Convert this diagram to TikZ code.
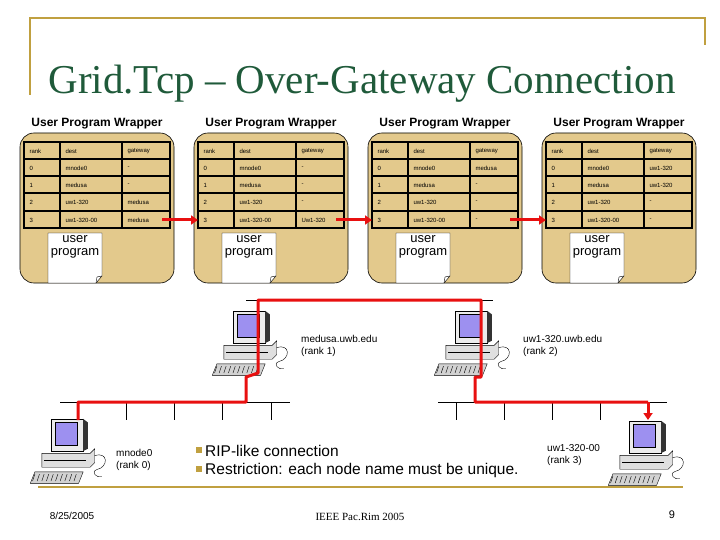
\documentclass[tikz,border=0pt]{standalone}
\usepackage{fontspec}
\setmainfont{Liberation Sans}
\newfontfamily\titlefont{Liberation Serif}
\usetikzlibrary{arrows.meta,positioning}
\definecolor{gold}{HTML}{C0A040}
\definecolor{tan}{HTML}{E3C98C}
\definecolor{titlegreen}{HTML}{1F5A3A}
\definecolor{screen}{HTML}{9D90F0}
\definecolor{netred}{HTML}{E81010}
\tikzset{
  wrapper/.style={draw, fill=tan, rounded corners=14pt, line width=0.6pt},
  cell/.style={font=\fontsize{6}{7}\selectfont, anchor=west},
  redline/.style={draw=netred, line width=3pt},
  redarrow/.style={draw=netred, line width=3pt, -{Triangle[length=7pt,width=9pt]}},
  lan/.style={draw, line width=0.6pt},
  hostlabel/.style={font=\fontsize{10}{12}\selectfont, align=left, anchor=north west, inner sep=0pt},
  pc/.pic={
    \draw[fill=gray!15] (-20,-34) rectangle (8,-6);
    \fill[black!80] (8,-34) -- (12,-31) -- (12,-8) -- (8,-6) -- cycle;
    \draw[fill=screen] (-16,-31) rectangle (3,-11);
    \draw[fill=gray!25] (-28,-4) -- (14,-4) -- (18,-8) -- (18,4) -- (14,8) -- (-28,8) -- cycle;
    \draw (-26,2) -- (10,2);
    \draw[fill=gray!35] (-34,12) -- (8,12) -- (4,22) -- (-38,22) -- cycle;
    \foreach \k in {-34,-30,...,2} \draw (\k,14) -- (\k-2,20);
    \draw (18,-2) .. controls (30,-6) and (30,8) .. (20,10) .. controls (14,12) and (20,18) .. (24,16);
  }
}
\begin{document}
\begin{tikzpicture}[x=1pt,y=-1pt]
\useasboundingbox (0,0) rectangle (720,540);

% slide frame
\draw[gold, line width=1.5pt] (30,95) -- (30,18) -- (705,18) -- (705,45);
\draw[gold, line width=2pt] (38,487) -- (683,487);
\node[text=titlegreen, font=\titlefont\fontsize{41}{43}\selectfont] (title) at (362,84) {Grid.Tcp – Over-Gateway Connection};

% wrappers with routing tables
\foreach \i/\xo/\ga/\gb/\gc/\gd in {0/20/-/-/medusa/medusa, 1/194/-/-/-/Uw1-320, 2/368/medusa/-/-/-, 3/542/uw1-320/uw1-320/-/-} {
  \node[font=\bfseries\fontsize{12}{13}\selectfont] (hdr\i) at (\xo+77,124) {User Program Wrapper};
  \draw[wrapper] (\xo,133) rectangle (\xo+154,283);
  \draw[line width=2pt] (\xo+4,142) rectangle (\xo+150,228);
  \foreach \r in {159,176,193,211} \draw[line width=1.5pt] (\xo+4,\r) -- (\xo+150,\r);
  \draw[line width=1.5pt] (\xo+40,142) -- (\xo+40,228);
  \draw[line width=1.5pt] (\xo+102,142) -- (\xo+102,228);
  \node[cell] at (\xo+6,151) {rank};
  \node[cell] at (\xo+42,151) {dest};
  \node[cell] at (\xo+104,151) {gateway};
  \foreach \n/\d/\g/\y in {0/mnode0/\ga/168, 1/medusa/\gb/185, 2/uw1-320/\gc/202, 3/uw1-320-00/\gd/220} {
    \node[cell] at (\xo+6,\y) {\n};
    \node[cell] at (\xo+42,\y) {\d};
    \node[cell] at (\xo+104,\y) {\g};
  }
  \coordinate (out\i) at (\xo+142,220);
  \coordinate (in\i) at (\xo+4,220);
  \draw[fill=white] (\xo+28,233) -- (\xo+82,233) -- (\xo+82,276) -- (\xo+76,283) -- (\xo+28,283) -- cycle;
  \draw (\xo+82,276) -- (\xo+77,277) -- (\xo+76,283);
  \node[font=\fontsize{13}{13}\selectfont, align=center, inner sep=0pt] (prog\i) at (\xo+55,247) {user\\program};
}
\draw[redarrow] (out0) -- (in1);
\draw[redarrow] (out1) -- (in2);
\draw[redarrow] (out2) -- (in3);

% lan segments
\draw[lan] (60,402) -- (290,402);
\foreach \t in {126,174,222,271} \draw[lan] (\t,402) -- (\t,420);
\draw[lan] (438,402) -- (667,402);
\foreach \t in {456,504,552,600} \draw[lan] (\t,402) -- (\t,420);
\draw[lan] (246,300) -- (493,300);

% hosts
\pic[scale=1.15] at (74,458) {pc};
\pic[scale=1.15] at (256,350) {pc};
\pic[scale=1.15] at (478,350) {pc};
\pic[scale=1.15] at (652,460) {pc};
\coordinate (pc0) at (78,420);
\coordinate (pc3) at (648,420);
\node[hostlabel] (lab0) at (116,449) {mnode0\\(rank 0)};
\node[hostlabel] (lab1) at (301,335) {medusa.uwb.edu\\(rank 1)};
\node[hostlabel] (lab2) at (523,335) {uw1-320.uwb.edu\\(rank 2)};
\node[hostlabel] (lab3) at (547,444) {uw1-320-00\\(rank 3)};

% route
\draw[redline, line join=round] (pc0) -- (78,402) -- (246,402) -- (246,377) -- (258,373) -- (258,300) -- (481,300) -- (481,377) -- (475,377) -- (475,402) -- (648,402);
\draw[redarrow] (648,402) -- (pc3);

% bullets
\fill[gold] (196,447) rectangle (202,453);
\fill[gold] (196,466) rectangle (202,472);
\node[anchor=west, font=\fontsize{15.5}{16}\selectfont, inner sep=0pt] (b1) at (205,451) {RIP-like connection};
\node[anchor=west, font=\fontsize{15.5}{16}\selectfont, inner sep=0pt] (b2) at (205,470) {Restriction: each node name must be unique.};

% footer
\node[font=\fontsize{10}{12}\selectfont] (date) at (72,516) {8/25/2005};
\node[font=\titlefont\fontsize{11}{12}\selectfont] (conf) at (360,517) {IEEE Pac.Rim 2005};
\node[font=\fontsize{11}{12}\selectfont] (page) at (672,515) {9};
\end{tikzpicture}
\end{document}
